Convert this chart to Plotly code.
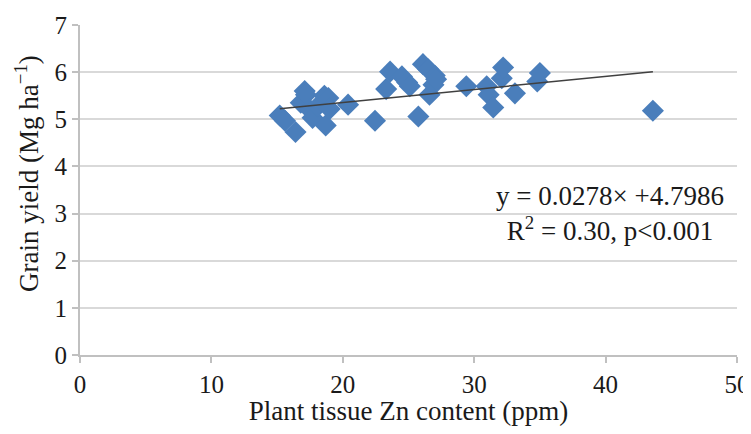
import plotly.graph_objects as go

# Points (ppm Zn vs grain yield)
zn_ppm = [
    15.2, 15.6, 16.4, 16.8, 17.1, 17.2, 17.5, 17.7, 18.1, 18.6, 18.9, 18.7, 19.0,
    20.4, 22.45, 23.3, 23.6, 24.5, 24.9, 25.1, 25.75, 26.1, 26.5, 26.6, 26.9,
    27.0, 27.1, 29.4, 30.95, 31.1, 31.45, 32.1, 32.2, 33.1, 34.8, 35.0, 43.6,
]
grain_yield = [
    5.08, 4.97, 4.73, 5.35, 5.6, 5.52, 5.2, 5.03, 5.28, 5.5, 5.45, 4.87, 5.22,
    5.31, 4.97, 5.64, 6.01, 5.91, 5.78, 5.7, 5.06, 6.17, 6.06, 5.52, 5.73,
    5.93, 5.85, 5.7, 5.7, 5.52, 5.25, 5.87, 6.1, 5.55, 5.8, 5.98, 5.18,
]

# Fitted line as printed on the chart
slope = 0.0278
intercept = 4.7986

x_ticks = [0, 10, 20, 30, 40, 50]
y_ticks = [0, 1, 2, 3, 4, 5, 6, 7]

serif = "Liberation Serif"

fig = go.Figure()

fig.add_trace(go.Scatter(
    x=zn_ppm,
    y=grain_yield,
    mode="markers",
    marker=dict(symbol="diamond", size=17, color="#4A7EBB"),
    showlegend=False,
))

# Trend line over the range of the data
x_line = [min(zn_ppm), max(zn_ppm)]
fig.add_trace(go.Scatter(
    x=x_line,
    y=[slope * v + intercept for v in x_line],
    mode="lines",
    line=dict(color="#404040", width=1.5),
    showlegend=False,
))

fig.add_annotation(
    x=0.807, y=0.43, xref="paper", yref="paper",
    xanchor="center", yanchor="middle",
    text=f"y = {slope}× +{intercept}<br>R<sup>2</sup> = 0.30, p&lt;0.001",
    showarrow=False, align="center",
    font=dict(family=serif, size=27, color="#1a1a1a"),
)

# y title as an annotation so it can sit a bit above centre like the original
fig.add_annotation(
    x=-0.08, y=0.55, xref="paper", yref="paper",
    xanchor="center", yanchor="middle",
    text="Grain yield (Mg ha<sup>−1</sup>)",
    textangle=-90, showarrow=False,
    font=dict(family=serif, size=27, color="#1a1a1a"),
)

# page body has an 8px margin, so the figure is offset by it
fig.update_layout(
    width=743,
    height=418,
    margin=dict(l=72, r=14, t=17, b=71),
    plot_bgcolor="white",
    paper_bgcolor="white",
    font=dict(family=serif, size=25, color="#1a1a1a"),
    xaxis=dict(
        range=[0, 50],
        tickvals=x_ticks,
        automargin=False,
        ticklabeloverflow="allow",
        showgrid=False,
        zeroline=False,
        showline=True, linecolor="#c0c0c0", linewidth=2,
        ticks="outside", ticklen=6, tickcolor="#c0c0c0", tickwidth=2,
        title=dict(text="Plant tissue Zn content (ppm)", font=dict(size=27), standoff=2),
    ),
    yaxis=dict(
        range=[0, 7],
        tickvals=y_ticks,
        automargin=False,
        showgrid=True, gridcolor="#d9d9d9", gridwidth=2,
        zeroline=False,
        showline=True, linecolor="#c0c0c0", linewidth=2,
        ticks="outside", ticklen=6, tickcolor="#c0c0c0", tickwidth=2,
    ),
)

fig.write_html("out.html")
